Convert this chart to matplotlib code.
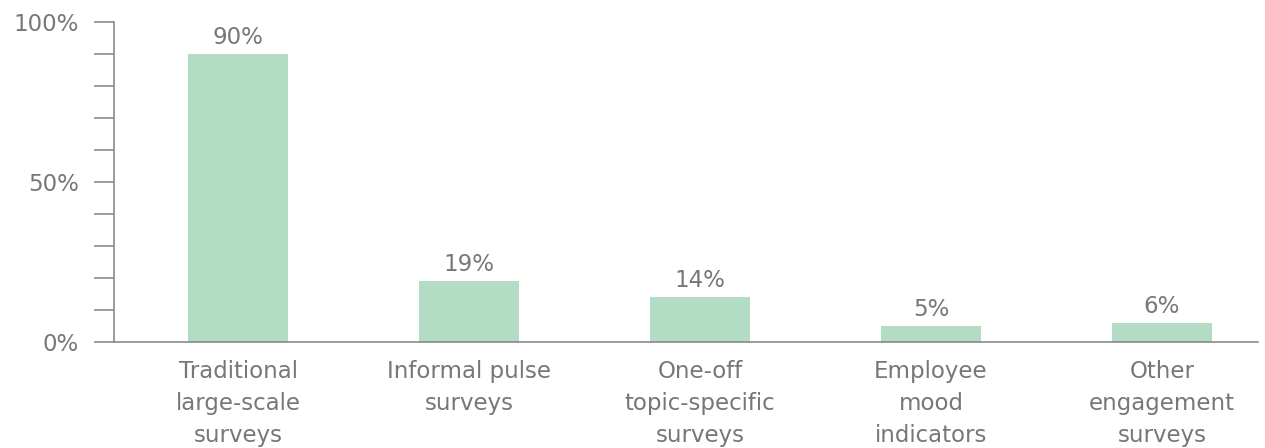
import matplotlib
matplotlib.use("Agg")
import matplotlib.pyplot as plt
from matplotlib.ticker import MultipleLocator, FixedLocator

categories = ["Traditional\nlarge-scale\nsurveys", "Informal pulse\nsurveys",
              "One-off\ntopic-specific\nsurveys", "Employee\nmood\nindicators",
              "Other\nengagement\nsurveys"]
values = [90, 19, 14, 5, 6]
ytick_labels = ["0%", "50%", "100%"]

plt.rcParams['font.family'] = ['DejaVu Sans']
TXT = "#777777"
AX = "#8a8a8a"
BAR = "#b3dcc4"
FS = 16.5

fig = plt.figure(figsize=(12.65, 4.48), dpi=100)
ax = fig.add_axes([114/1265, 1-342/448, (1258-114)/1265, (342-22)/448])

x = list(range(len(categories)))
ax.bar(x, values, width=0.433, color=BAR, zorder=2)
for xi, v in zip(x, values):
    ax.text(xi, v + 1.5, f"{v}%", ha="center", va="bottom", fontsize=FS, color=TXT)

ax.set_xlim(-0.537, 4.416)
ax.set_ylim(0, 100)
ax.yaxis.set_major_locator(FixedLocator([0, 50, 100]))
ax.set_yticklabels(ytick_labels)
ax.yaxis.set_minor_locator(MultipleLocator(10))
ax.tick_params(axis="y", which="both", direction="out", length=14.4, width=1.2,
               color=AX, labelsize=FS, labelcolor=TXT, pad=11)
ax.set_xticks(x)
ax.set_xticklabels(categories, fontsize=FS, color=TXT, linespacing=1.5)
ax.tick_params(axis="x", length=0, pad=13)

for s in ["top", "right"]:
    ax.spines[s].set_visible(False)
for s in ["left", "bottom"]:
    ax.spines[s].set_color(AX)
    ax.spines[s].set_linewidth(1.2)
    ax.spines[s].set_zorder(3)

fig.savefig("out.png", dpi=100)
